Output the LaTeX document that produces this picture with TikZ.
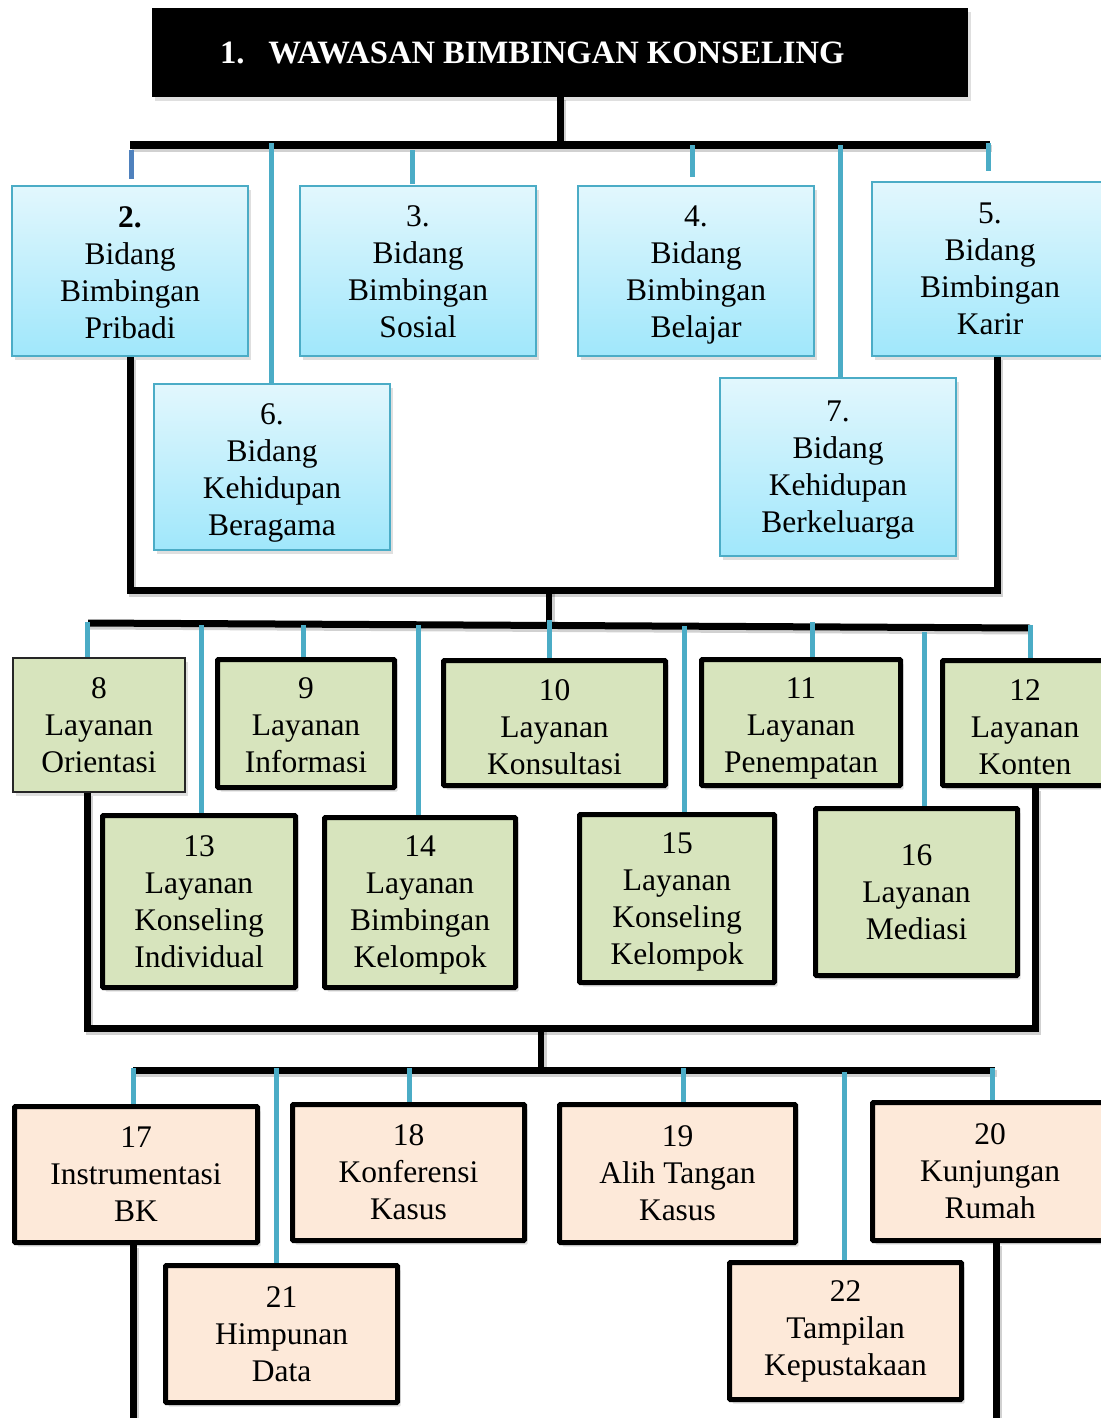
\documentclass[tikz,border=0pt]{standalone}
\usepackage{fontspec}
\setmainfont{Liberation Serif}
\usetikzlibrary{shadows}
\definecolor{cyanline}{RGB}{75,172,198}
\definecolor{blueline}{RGB}{79,129,189}
\definecolor{skytop}{RGB}{226,247,253}
\definecolor{skybot}{RGB}{160,231,251}
\definecolor{greenfill}{RGB}{215,228,189}
\definecolor{peachfill}{RGB}{253,233,217}
% invisible strut on a first line: lowers the text block inside its box
\newcommand{\lift}[1]{\rule{0pt}{#1pt}}

\begin{document}
\begin{tikzpicture}[x=1pt,y=-1pt,
  every node/.style={font=\fontsize{31.5}{37}\selectfont, align=center, inner sep=0pt},
  softshadow/.style={drop shadow={shadow xshift=3pt, shadow yshift=-4pt, opacity=0.25}},
  skybox/.style={draw=cyanline, line width=2pt, top color=skytop, bottom color=skybot, softshadow},
  greenbox/.style={draw=black, line width=5pt, fill=greenfill, rounded corners=1pt, softshadow},
  greenthin/.style={draw=black!85, line width=2pt, fill=greenfill, softshadow},
  peachbox/.style={draw=black, line width=5pt, fill=peachfill, rounded corners=1pt, softshadow},
  barline/.style={draw=black, line width=7pt,
    preaction={draw=black, opacity=0.18, line width=7pt, transform canvas={xshift=2pt, yshift=-3pt}}},
  dropline/.style={draw=cyanline, line width=5pt}
]
\useasboundingbox (0,0) rectangle (1100,1418);

% heading
\node[fill=black, minimum width=816pt, minimum height=89pt, softshadow,
      font=\fontsize{32.6}{38}\selectfont\bfseries, text=white] (title) at (560,52.5)
  {\makebox[816pt][l]{\hspace{68pt}1.\hspace{24pt}WAWASAN BIMBINGAN KONSELING}};

% fields (bidang)
\node[skybox, minimum width=236pt, minimum height=170pt] (b2) at (130,271) {\lift{25}\textbf{2.}\\Bidang\\Bimbingan\\Pribadi};
\node[skybox, minimum width=236pt, minimum height=170pt] (b3) at (418,271) {\lift{23}3.\\Bidang\\Bimbingan\\Sosial};
\node[skybox, minimum width=236pt, minimum height=170pt] (b4) at (696,271) {\lift{29}4.\\Bidang\\Bimbingan\\Belajar};
\node[skybox, minimum width=236pt, minimum height=174pt] (b5) at (990,269) {5.\\Bidang\\Bimbingan\\Karir};
\node[skybox, minimum width=236pt, minimum height=166pt] (b6) at (272,467) {\lift{33}6.\\Bidang\\Kehidupan\\Beragama};
\node[skybox, minimum width=236pt, minimum height=178pt] (b7) at (838,467) {\lift{27}7.\\Bidang\\Kehidupan\\Berkeluarga};

% services (layanan)
\node[greenthin, minimum width=172pt, minimum height=134pt] (b8) at (99,725) {8\\Layanan\\Orientasi};
\node[greenbox, minimum width=177pt, minimum height=128pt] (b9) at (306,723.5) {\lift{25}9\\Layanan\\Informasi};
\node[greenbox, minimum width=222pt, minimum height=125pt] (b10) at (554.5,723) {\lift{29}10\\Layanan\\Konsultasi};
\node[greenbox, minimum width=199pt, minimum height=126pt] (b11) at (801,722.5) {\lift{33}11\\Layanan\\Penempatan};
\node[greenbox, minimum width=165pt, minimum height=125pt] (b12) at (1025,723) {\lift{29}12\\Layanan\\Konten};
\node[greenbox, minimum width=193pt, minimum height=172pt] (b13) at (199,901.5) {13\\Layanan\\Konseling\\Individual};
\node[greenbox, minimum width=191pt, minimum height=170pt] (b14) at (420,902.5) {\lift{25}14\\Layanan\\Bimbingan\\Kelompok};
\node[greenbox, minimum width=195pt, minimum height=168pt] (b15) at (677,898.5) {\lift{27}15\\Layanan\\Konseling\\Kelompok};
\node[greenbox, minimum width=202pt, minimum height=167pt] (b16) at (916.5,892) {16\\Layanan\\Mediasi};

% supporting activities
\node[peachbox, minimum width=243pt, minimum height=136pt] (b17) at (136,1174.5) {17\\Instrumentasi\\BK};
\node[peachbox, minimum width=232pt, minimum height=136pt] (b18) at (408.5,1172.5) {18\\Konferensi\\Kasus};
\node[peachbox, minimum width=236pt, minimum height=138pt] (b19) at (677.5,1173.5) {19\\Alih Tangan\\Kasus};
\node[peachbox, minimum width=235pt, minimum height=138pt] (b20) at (990,1171.5) {20\\Kunjungan\\Rumah};
\node[peachbox, minimum width=232pt, minimum height=137pt] (b21) at (281.5,1334) {21\\Himpunan\\Data};
\node[peachbox, minimum width=232pt, minimum height=137pt] (b22) at (845.5,1331) {22\\Tampilan\\Kepustakaan};

% tree skeleton
\coordinate (bar1L) at (130,145);  \coordinate (bar1R) at (990,145);
\coordinate (bk1R)  at (997,590);  \coordinate (bk1M) at (549,590);
\coordinate (bar2L) at (88,623);   \coordinate (bar2R) at (1030,628);
\coordinate (bk2L)  at (87,1028);  \coordinate (bk2R) at (1035,1028);
\coordinate (bk2M)  at (541,1028);
\coordinate (bar3L) at (133,1070); \coordinate (bar3R) at (995,1070);
\coordinate (bk3L)  at (133,1421); \coordinate (bk3R) at (996,1421);

\path[barline] (title.south) -- (title.south |- bar1L);
\path[barline, line width=8pt] (bar1L) -- (bar1R);
\path[barline] (b2.south) |- (bk1R) -- (bk1R |- b5.south);
\path[barline, line width=6pt] (bk1M) -- (549,625.5);
\path[barline] (bar2L) -- (bar2R);
\path[barline] (bk2L |- b8.south) -- (bk2L) -- (bk2R) -- (bk2R |- b12.south);
\path[barline, line width=6pt] (bk2M) -- (bk2M |- bar3L);
\path[barline] (bar3L) -- (bar3R);
\path[barline] (bk3L |- b17.south) -- (bk3L) -- (bk3R) -- (bk3R |- b20.south);

% drops from the first bar
\coordinate (d2) at (131,150); \coordinate (d6) at (271,143);
\coordinate (d3) at (412,150); \coordinate (d4) at (692,145);
\coordinate (d7) at (840,145); \coordinate (d5) at (988,143);
\draw[dropline, draw=blueline, shorten >=6pt] (d2) -- (d2 |- b2.north);
\draw[dropline] (d6) -- (d6 |- b6.north);
\draw[dropline, shorten >=1pt] (d3) -- (d3 |- b3.north);
\draw[dropline, shorten >=8pt] (d4) -- (d4 |- b4.north);
\draw[dropline] (d7) -- (d7 |- b7.north);
\draw[dropline, shorten >=10pt] (d5) -- (d5 |- b5.north);

% drops from the second bar
\coordinate (d8)  at (87,622);   \coordinate (d13) at (201,625);
\coordinate (d9)  at (303,625);  \coordinate (d14) at (418,625);
\coordinate (d10) at (549,620);  \coordinate (d15) at (684,626);
\coordinate (d11) at (812,622);  \coordinate (d16) at (924,632);
\coordinate (d12) at (1030,625);
\foreach \d in {8,...,16} {\draw[dropline] (d\d) -- (d\d |- b\d.north);}

% drops from the third bar
\coordinate (d17) at (133,1068); \coordinate (d21) at (276,1068);
\coordinate (d18) at (409,1068); \coordinate (d19) at (683,1068);
\coordinate (d22) at (844,1072); \coordinate (d20) at (992,1068);
\foreach \d in {17,...,22} {\draw[dropline] (d\d) -- (d\d |- b\d.north);}
\end{tikzpicture}
\end{document}
